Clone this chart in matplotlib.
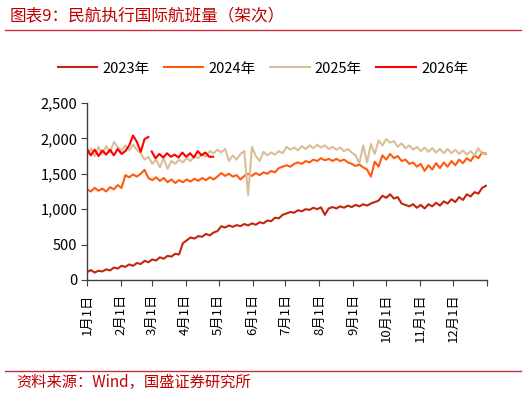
import matplotlib
matplotlib.use("Agg")
import matplotlib.pyplot as plt
from matplotlib.lines import Line2D
import numpy as np

plt.rcParams["font.family"] = ["Noto Sans CJK SC", "DejaVu Sans"]

TITLE = "图表9：民航执行国际航班量（架次）"
SOURCE = "资料来源：Wind，国盛证券研究所"

# half-week readings (every 3.5 days from Jan 1)
STEP_DAYS = 3.5
flights_2023 = [
    110, 140, 105, 130, 120, 150, 135, 175, 160, 200,
    185, 220, 200, 240, 225, 270, 250, 290, 275, 320,
    300, 340, 330, 370, 360, 520, 560, 600, 585, 620,
    610, 650, 630, 670, 690, 760, 740, 770, 750, 775,
    760, 790, 770, 800, 780, 815, 800, 840, 830, 880,
    870, 920, 940, 960, 950, 985, 970, 1000, 990, 1020,
    1000, 1025, 920, 1010, 1030, 1010, 1040, 1020, 1050, 1030,
    1060, 1040, 1070, 1050, 1080, 1100, 1120, 1190, 1160, 1210,
    1150, 1170, 1080, 1060, 1040, 1070, 1020, 1060, 1010, 1070,
    1040, 1090, 1050, 1110, 1080, 1140, 1100, 1170, 1130, 1210,
    1180, 1240, 1220, 1300, 1330,
]
flights_2024 = [
    1280, 1250, 1300, 1260, 1290, 1250, 1310, 1280, 1340, 1300,
    1480, 1450, 1490, 1460, 1500, 1555, 1440, 1410, 1450, 1400,
    1440, 1380, 1420, 1370, 1410, 1380, 1420, 1390, 1430, 1400,
    1440, 1410, 1450, 1420, 1460, 1510, 1470, 1500, 1460, 1480,
    1420, 1470, 1500, 1470, 1510, 1480, 1520, 1500, 1540, 1520,
    1580, 1600, 1620, 1600, 1640, 1660, 1640, 1680, 1660, 1700,
    1680, 1720, 1690, 1710, 1680, 1710, 1680, 1700, 1660, 1640,
    1610, 1630, 1590, 1560, 1460, 1670, 1600, 1760, 1700, 1780,
    1720, 1750, 1680, 1700, 1640, 1660, 1600, 1640, 1540, 1620,
    1560, 1650, 1580, 1660, 1600, 1680, 1620, 1700, 1650, 1720,
    1680, 1760, 1720, 1800, 1780,
]
flights_2025 = [
    1760, 1860, 1750, 1880, 1770, 1890, 1800, 1950, 1880, 1820,
    1900, 1830, 1910, 1840, 1790, 1700, 1740, 1640, 1700, 1590,
    1720, 1570, 1680, 1640, 1700, 1660, 1720, 1680, 1750, 1720,
    1780, 1740, 1820, 1790, 1840, 1800, 1850, 1680, 1760, 1700,
    1780, 1820, 1200, 1880, 1750, 1680, 1810, 1760, 1800, 1770,
    1820, 1790, 1880, 1840, 1870, 1830, 1890, 1850, 1900, 1860,
    1910, 1870, 1900, 1850, 1880, 1840, 1870, 1820, 1850, 1800,
    1760, 1650, 1900, 1660, 1920, 1780, 1970, 1900, 1990, 1940,
    1960, 1880, 1930, 1860, 1900, 1840, 1880, 1820, 1870, 1810,
    1860, 1800, 1850, 1790, 1850, 1790, 1840, 1780, 1830, 1770,
    1820, 1760, 1860, 1780, 1790,
]
# 2026 has a short break at the end of February
flights_2026_jan_feb = [
    1850, 1760, 1840, 1750, 1830, 1770, 1840, 1760, 1850, 1780,
    1820, 1900, 2040, 1950, 1810, 1990, 2020,
]
FEB_BREAK_DAY = 59
flights_2026_mar_apr = [
    1815, 1720, 1780, 1730, 1790, 1740, 1770, 1730, 1800, 1740,
    1790, 1730, 1820, 1760, 1800, 1740, 1740,
]

month_days = [0, 31, 59, 90, 120, 151, 181, 212, 243, 273, 304, 334, 365]
month_labels = [f"{m}月1日" for m in range(1, 13)] + [""]

series_colors = {
    "2023年": "#C2260C",
    "2024年": "#FF5A0F",
    "2025年": "#D9BF98",
    "2026年": "#FF0000",
}
RED = "#C00000"


def days_for(values, start=0.0):
    return start + np.arange(len(values)) * STEP_DAYS


def main() -> None:
    fig = plt.figure(figsize=(5.26, 3.96), dpi=100)
    ax = fig.add_axes([0.1654, 0.293, 0.7606, 0.447])

    ax.plot(days_for(flights_2023), flights_2023, color=series_colors["2023年"], lw=1.5, label="2023年")
    ax.plot(days_for(flights_2024), flights_2024, color=series_colors["2024年"], lw=1.5, label="2024年")
    ax.plot(days_for(flights_2025), flights_2025, color=series_colors["2025年"], lw=1.5, label="2025年")
    ax.plot(days_for(flights_2026_jan_feb), flights_2026_jan_feb, color=series_colors["2026年"], lw=1.5, label="2026年")
    ax.plot(days_for(flights_2026_mar_apr, FEB_BREAK_DAY), flights_2026_mar_apr, color=series_colors["2026年"], lw=1.5)

    ax.set_xlim(0, 365)
    ax.set_ylim(0, 2500)
    ax.set_yticks(range(0, 2501, 500))
    ax.set_yticklabels([f"{v:,}" for v in range(0, 2501, 500)], fontsize=10.5)
    ax.set_xticks(month_days)
    ax.set_xticklabels(month_labels, rotation=90, fontsize=9.5)

    for side in ("top", "right"):
        ax.spines[side].set_visible(False)
    for side in ("left", "bottom"):
        ax.spines[side].set_color("#404040")
        ax.spines[side].set_linewidth(1.0)
    ax.tick_params(axis="both", direction="out", length=4, color="#404040", pad=3)
    ax.tick_params(axis="x", pad=6)

    ax.legend(
        loc="center",
        bbox_to_anchor=(0.5, 0.827),
        bbox_transform=fig.transFigure,
        ncol=4,
        frameon=False,
        fontsize=10.5,
        handlelength=2.7,
        handletextpad=0.35,
        columnspacing=1.0,
    )

    fig.text(0.019, 0.957, TITLE, color=RED, fontsize=12, style="italic", ha="left", va="center")
    fig.add_artist(Line2D([0.01, 0.99], [0.924, 0.924], transform=fig.transFigure, color="#D03040", lw=1.0))
    fig.add_artist(Line2D([0.01, 0.99], [0.063, 0.063], transform=fig.transFigure, color="#C03040", lw=1.0))
    fig.text(0.031, 0.033, SOURCE, color=RED, fontsize=11, style="italic", ha="left", va="center")

    fig.savefig("out.png", dpi=100)


if __name__ == "__main__":
    main()
